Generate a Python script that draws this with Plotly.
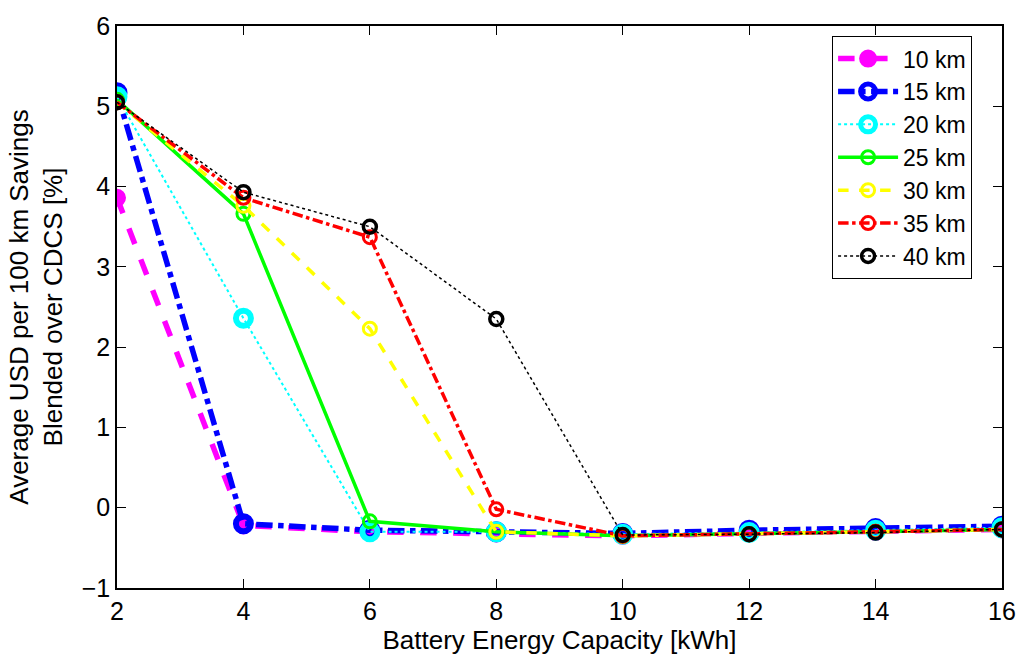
import plotly.graph_objects as go

capacity = [2, 4, 6, 8, 10, 12, 14, 16]
s10 = [3.86, -0.22, -0.30, -0.32, -0.35, -0.32, -0.30, -0.27]
s15 = [5.17, -0.20, -0.28, -0.30, -0.32, -0.28, -0.26, -0.23]
s20 = [5.12, 2.36, -0.30, -0.30, -0.33, -0.31, -0.28, -0.25]
s25 = [5.08, 3.66, -0.17, -0.30, -0.35, -0.33, -0.30, -0.27]
s30 = [5.05, 3.76, 2.23, -0.30, -0.35, -0.33, -0.30, -0.27]
s35 = [5.05, 3.86, 3.37, -0.02, -0.35, -0.33, -0.30, -0.27]
s40 = [5.05, 3.93, 3.50, 2.35, -0.34, -0.33, -0.31, -0.27]

labels = ["10 km", "15 km", "20 km", "25 km", "30 km", "35 km", "40 km"]
series = [s10, s15, s20, s25, s30, s35, s40]
colors = ["#ff00ff", "#0000ff", "#00ffff", "#00ff00", "#ffff00", "#ff0000", "#000000"]
dashes = ["dash", "dashdot", "dot", "solid", "dash", "dashdot", "dot"]
widths = [5.5, 5.5, 2, 3.5, 3.5, 3.5, 1.5]
msizes = [16, 15, 15, 13, 13, 13, 13]
msym = ["circle", "circle-open", "circle-open", "circle-open", "circle-open", "circle-open", "circle-open"]
mlw = [2, 6, 6, 3, 3, 3, 3.5]

fig = go.Figure()
for lab, ys, c, d, w, ms, sym, lw in zip(labels, series, colors, dashes, widths, msizes, msym, mlw):
    fig.add_trace(go.Scatter(
        x=capacity, y=ys, name=lab, mode="lines+markers",
        line=dict(color=c, dash=d, width=w),
        marker=dict(symbol=sym, size=ms, color=c, line=dict(color=c, width=lw)),
    ))

axis_common = dict(
    showline=True, linecolor="black", linewidth=1.5, mirror="ticks",
    ticks="inside", ticklen=9, tickwidth=1, tickcolor="black",
    showgrid=False, zeroline=False,
    tickfont=dict(family="Liberation Sans, Arial", size=25, color="black"),
)

fig.update_layout(
    width=1028, height=659,
    margin=dict(l=117, r=18, t=17, b=71),
    paper_bgcolor="white", plot_bgcolor="white",
    font=dict(family="Liberation Sans, Arial", size=25, color="black"),
    xaxis=dict(range=[2, 16], dtick=2, tick0=2,
               title=dict(text="Battery Energy Capacity [kWh]", standoff=2,
                          font=dict(size=26)), **axis_common),
    yaxis=dict(range=[-1, 6], dtick=1,
               title=dict(text="Average USD per 100 km Savings<br>Blended over CDCS [%]",
                          standoff=12, font=dict(size=26)), **axis_common),
    legend=dict(x=0.808, y=0.982, xanchor="left", yanchor="top",
                bordercolor="black", borderwidth=1, bgcolor="white",
                font=dict(size=23), tracegroupgap=0, itemwidth=60),
    showlegend=True,
)

fig.write_html("out.html")
